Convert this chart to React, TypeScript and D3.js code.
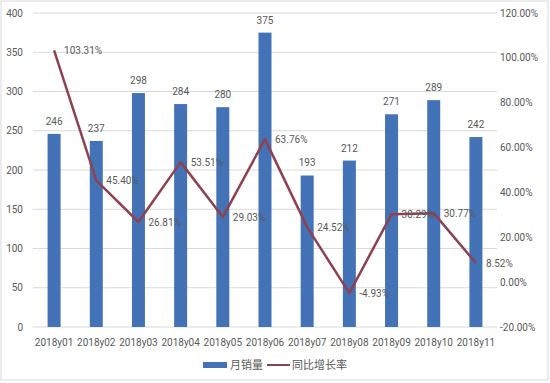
import React from "react";
import * as d3 from "d3";

const categories = ["2018y01","2018y02","2018y03","2018y04","2018y05","2018y06","2018y07","2018y08","2018y09","2018y10","2018y11"];
const sales = [246, 237, 298, 284, 280, 375, 193, 212, 271, 289, 242];
const growth = [103.31, 45.40, 26.81, 53.51, 29.03, 63.76, 24.52, -4.93, 30.29, 30.77, 8.52];
const leftTicks = [0, 50, 100, 150, 200, 250, 300, 350, 400];
const rightTicks = [-20, 0, 20, 40, 60, 80, 100, 120];
const legendLabels = ["月销量", "同比增长率"];

const W = 550, H = 383;
const plot = { left: 33, right: 497, top: 13, bottom: 327 };
const BAR = "#4373B6";
const LINE = "#8E4250";
const TXT = "#595959";
const FONT = "Roboto, 'Noto Sans CJK SC', sans-serif";

export default function App() {
  const x = d3.scaleBand<string>().domain(categories).range([plot.left, plot.right]).paddingInner(0).paddingOuter(0);
  const yL = d3.scaleLinear().domain([0, 400]).range([plot.bottom, plot.top]);
  const yR = d3.scaleLinear().domain([-20, 120]).range([plot.bottom, plot.top]);
  const bw = 13;
  const cx = (c: string) => (x(c) as number) + x.bandwidth() / 2;
  const line = d3.line<number>().x((_, i) => cx(categories[i])).y((d) => yR(d));

  return (
    <svg width={W} height={H} style={{ position: "absolute", left: 0, top: 0 }} fontFamily={FONT}>
      <rect x={0} y={0} width={W} height={H} fill="#fff" />
      <rect x={1} y={1} width={W - 3} height={H - 4} fill="none" stroke="#d9d9d9" />
      {leftTicks.map((t) => (
        <g key={t}>
          <line x1={plot.left} x2={plot.right} y1={yL(t)} y2={yL(t)} stroke="#d9d9d9" strokeWidth={1} />
          <text x={23} y={yL(t)} dy="0.35em" textAnchor="end" fontSize={10} fill={TXT}>{t}</text>
        </g>
      ))}
      {rightTicks.map((t) => (
        <text key={t} x={500} y={yR(t)} dy="0.35em" textAnchor="start" fontSize={10} fill={TXT}>{t.toFixed(2)}%</text>
      ))}
      {categories.map((c, i) => (
        <g key={c}>
          <rect x={cx(c) - bw / 2} y={yL(sales[i])} width={bw} height={yL(0) - yL(sales[i])} fill={BAR} />
          <text x={cx(c)} y={yL(sales[i]) - 9} textAnchor="middle" fontSize={10} fill={TXT}>{sales[i]}</text>
          <text x={cx(c)} y={342} dy="0.35em" textAnchor="middle" fontSize={10} fill={TXT}>{c}</text>
        </g>
      ))}
      <path d={line(growth) || ""} fill="none" stroke={LINE} strokeWidth={2.5} strokeLinejoin="round" />
      {growth.map((g, i) => (
        <text key={i} x={cx(categories[i]) + 10} y={yR(g)} dy="0.35em" textAnchor="start" fontSize={10} fill={TXT}>{g.toFixed(2)}%</text>
      ))}
      <rect x={203} y={362} width={24} height={6} fill={BAR} />
      <text x={230} y={365} dy="0.35em" fontSize={11} fill={TXT}>{legendLabels[0]}</text>
      <line x1={267} x2={290} y1={365} y2={365} stroke={LINE} strokeWidth={2} />
      <text x={292} y={365} dy="0.35em" fontSize={11} fill={TXT}>{legendLabels[1]}</text>
    </svg>
  );
}
